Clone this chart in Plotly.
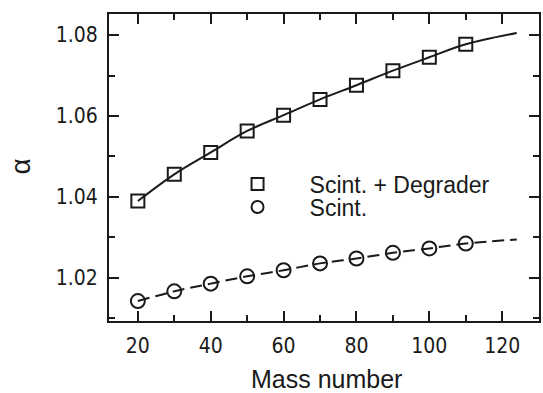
import plotly.graph_objects as go

mass = [20, 30, 40, 50, 60, 70, 80, 90, 100, 110]
alpha_degrader = [1.0390, 1.0456, 1.0510, 1.0563, 1.0602, 1.0641, 1.0676, 1.0712, 1.0745, 1.0777]
alpha_scint = [1.0143, 1.0167, 1.0186, 1.0204, 1.0219, 1.0236, 1.0248, 1.0262, 1.0273, 1.0285]

fit_x = [20, 30, 40, 50, 60, 70, 80, 90, 100, 110, 124]
fit_degrader = [1.0390, 1.0456, 1.0510, 1.0563, 1.0602, 1.0641, 1.0676, 1.0712, 1.0745, 1.0777, 1.0805]
fit_scint = [1.0143, 1.0167, 1.0186, 1.0204, 1.0219, 1.0236, 1.0248, 1.0262, 1.0273, 1.0285, 1.0295]

x_ticks = [20, 40, 60, 80, 100, 120]
y_ticks = [1.02, 1.04, 1.06, 1.08]
y_tick_text = ["1.02", "1.04", "1.06", "1.08"]

INK = "#1a1a1a"
W, H = 543, 393
L, R, T, B = 109, 2, 14, 72

fig = go.Figure()
fig.add_trace(go.Scatter(x=fit_x, y=fit_degrader, mode="lines", line=dict(color=INK, width=2, shape="spline"),
                         showlegend=False, hoverinfo="skip"))
fig.add_trace(go.Scatter(x=fit_x, y=fit_scint, mode="lines", line=dict(color=INK, width=2, shape="spline", dash="12px,6px"),
                         showlegend=False, hoverinfo="skip"))
fig.add_trace(go.Scatter(x=mass, y=alpha_degrader, mode="markers", name="Scint. + Degrader",
                         marker=dict(symbol="square-open", size=13, color=INK, line=dict(width=2, color=INK)),
                         legend="legend"))
fig.add_trace(go.Scatter(x=mass, y=alpha_scint, mode="markers", name="Scint.",
                         marker=dict(symbol="circle-open", size=14, color=INK, line=dict(width=2, color=INK)),
                         legend="legend2"))

pw = W - L - R
ph = H - T - B
def px(xp):
    return (xp - L) / pw
def py(yp):
    return (H - B - yp) / ph

legend_common = dict(xanchor="left", yanchor="middle", bgcolor="rgba(0,0,0,0)",
                     font=dict(family="Liberation Sans", size=23, color=INK),
                     itemwidth=94, itemsizing="constant", borderwidth=0)

tickfont = dict(family="DejaVu Sans Condensed, Liberation Sans", size=21, color=INK)

fig.update_layout(
    width=W, height=H,
    margin=dict(l=L, r=R, t=T, b=B),
    paper_bgcolor="white", plot_bgcolor="white",
    legend=dict(x=px(206), y=py(184), **legend_common),
    legend2=dict(x=px(206), y=py(207), **legend_common),
    xaxis=dict(range=[12.08, 130.1], tickvals=x_ticks, ticks="inside", ticklen=10, tickwidth=1.5, tickcolor=INK,
               showline=True, linewidth=1.8, linecolor=INK, mirror="ticks", showgrid=False, zeroline=False,
               tickfont=tickfont, ticklabelstandoff=5,
               minor=dict(dtick=10, tick0=0, ticks="inside", ticklen=6, tickwidth=1.5, tickcolor=INK, showgrid=False)),
    yaxis=dict(range=[1.00937, 1.08519], tickvals=y_ticks, ticktext=y_tick_text, ticks="inside", ticklen=10,
               tickwidth=1.5, tickcolor=INK,
               showline=True, linewidth=1.8, linecolor=INK, mirror="ticks", showgrid=False, zeroline=False,
               tickfont=tickfont, ticklabelstandoff=5,
               minor=dict(dtick=0.01, tick0=1.0, ticks="inside", ticklen=6, tickwidth=1.5, tickcolor=INK, showgrid=False)),
    annotations=[
        dict(text="Mass number", xref="paper", yref="paper", x=px(328), y=py(379), xanchor="center", yanchor="middle",
             showarrow=False, font=dict(family="Liberation Sans", size=25, color=INK)),
        dict(text="α", xref="paper", yref="paper", x=px(20), y=py(166), xanchor="center", yanchor="middle",
             textangle=-90, showarrow=False, font=dict(family="Liberation Sans", size=28, color=INK)),
    ],
)

fig.write_html("out.html")
